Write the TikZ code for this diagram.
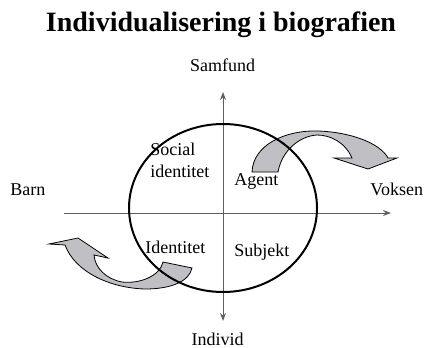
\documentclass[tikz,border=0pt]{standalone}
\usepackage{fontspec}
\setmainfont{Liberation Serif}
\usepackage{tikz}
\usetikzlibrary{arrows.meta, positioning}
\definecolor{ArrowGrey}{RGB}{192,192,196}
\definecolor{AxisGrey}{RGB}{95,95,95}
\tikzset{
  titlenode/.style={font=\fontsize{14}{16}\selectfont\bfseries, inner sep=0pt, anchor=base},
  axislabel/.style={font=\fontsize{9}{11}\selectfont, inner sep=0pt, anchor=base},
  fieldlabel/.style={font=\fontsize{9}{11}\selectfont, inner sep=0pt, anchor=base west, align=left},
  axisline/.style={draw=AxisGrey, line width=0.5pt, >={Stealth[length=4pt,width=3pt]}},
  rim/.style={draw=black, line width=1pt},
  bendarrow/.style={draw=black, fill=ArrowGrey, line width=0.4pt, line join=miter}
}

\begin{document}
\begin{tikzpicture}[x=0.5pt, y=-0.5pt]
  \useasboundingbox (0,0) rectangle (426,347);

  \node[titlenode] (title) at (221,32) {Individualisering i biografien};

  % axes
  \coordinate (top) at (223,92);
  \coordinate (bottom) at (223,321);
  \coordinate (left) at (64,213);
  \coordinate (right) at (391,213);
  \node[axislabel] (samfund) at (222.5,71.7) {Samfund};
  \node[axislabel] (individ) at (217.5,345.5) {Individ};
  \node[axislabel, anchor=base west] (barn) at (10,195) {Barn};
  \node[axislabel, anchor=base west] (voksen) at (370,195) {Voksen};

  % curved arrows
  \path[bendarrow] (252,172) .. controls (253,145) and (285,130) .. (318,131)
    .. controls (350,132) and (380,143) .. (388,158)
    -- (397,158) -- (368,169) -- (334,158) -- (352,158)
    .. controls (345,142) and (330,135) .. (317,135)
    .. controls (300,136) and (282,150) .. (278,172) -- cycle;
  \path[bendarrow] (49,244) -- (78,238) -- (108,258) -- (94,255)
    .. controls (95,268) and (106,279) .. (122,282)
    .. controls (140,284) and (160,276) .. (163,262)
    -- (192,268)
    .. controls (189,282) and (170,289) .. (145,289)
    .. controls (110,288) and (75,272) .. (65,245) -- cycle;

  \draw[axisline, <->] (bottom) -- (top);
  \draw[axisline, ->] (left) -- (right);

  \draw[rim] (223,208) ellipse [x radius=94, y radius=84];

  % fields
  \node[fieldlabel] (social) at (150,177) {Social\\identitet};
  \node[fieldlabel] (agent) at (234,185) {Agent};
  \node[fieldlabel] (identitet) at (145,253) {Identitet};
  \node[fieldlabel] (subjekt) at (234,256) {Subjekt};
\end{tikzpicture}
\end{document}
